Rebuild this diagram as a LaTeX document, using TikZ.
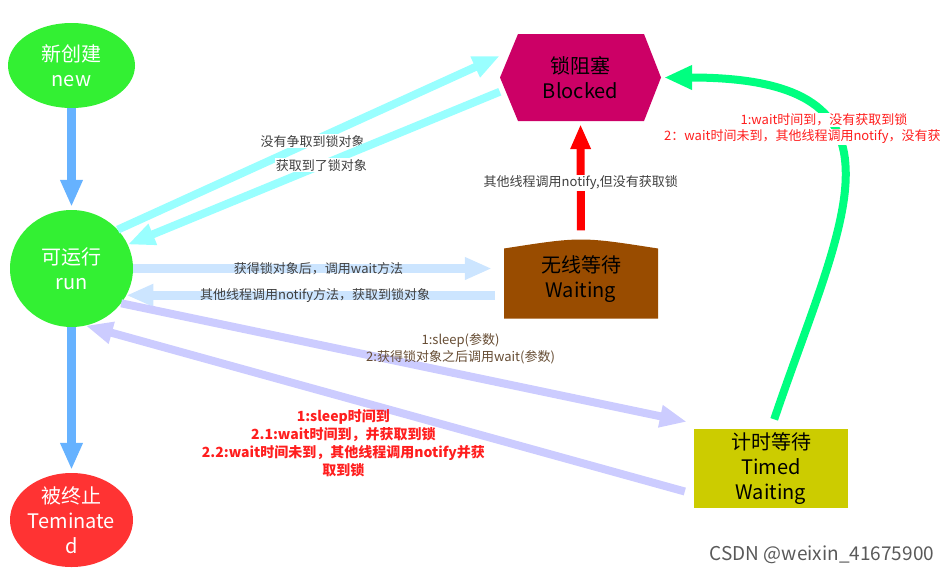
\documentclass[tikz,border=0pt]{standalone}
\usepackage{fontspec}
\setmainfont{Noto Sans CJK SC}
\usetikzlibrary{arrows.meta,shapes.geometric}

\definecolor{newgreen}{RGB}{51,240,51}
\definecolor{endred}{RGB}{255,51,51}
\definecolor{blockpink}{RGB}{204,0,102}
\definecolor{waitbrown}{RGB}{153,76,0}
\definecolor{timedolive}{RGB}{204,204,0}
\definecolor{flowblue}{RGB}{102,178,255}
\definecolor{flowcyan}{RGB}{153,255,255}
\definecolor{flowsky}{RGB}{204,229,255}
\definecolor{flowlilac}{RGB}{204,204,255}
\definecolor{flowred}{RGB}{255,0,0}
\definecolor{flowmint}{RGB}{0,255,128}
\definecolor{notegray}{RGB}{64,64,64}
\definecolor{notebrown}{RGB}{102,76,51}
\definecolor{notered}{RGB}{255,30,30}

\tikzset{
stateell/.style={ellipse, inner sep=-15pt, text=white, align=center, font=\fontsize{20}{25}\selectfont},
statebox/.style={rectangle, inner sep=0pt, align=center, font=\fontsize{20}{25}\selectfont},
flow/.style={line width=9pt, -{Triangle[width=21pt,length=27pt]}},
note/.style={font=\fontsize{13}{17}\selectfont, text=notegray, inner sep=1pt, align=center},
rednote/.style={font=\bfseries\fontsize{14}{18}\selectfont, text=notered, inner sep=1pt, align=center},
}

\begin{document}
\begin{tikzpicture}[x=1pt,y=-1pt]
\useasboundingbox (0,0) rectangle (950,574);
\node[stateell, fill=newgreen, minimum width=127pt, minimum height=85pt] (new) at (71.5,65.5) {新创建\\new};
\node[stateell, fill=newgreen, minimum width=123pt, minimum height=117pt] (run) at (71.5,268.5) {可运行\\run};
\node[stateell, fill=endred, minimum width=123pt, minimum height=94pt] (dead) at (71.5,520) {被终止\\Teminate\\d};
\node[statebox, minimum width=161pt, minimum height=87pt, path picture={
\fill[blockpink] (path picture bounding box.west) -- ([xshift=18pt]path picture bounding box.north west)
 -- ([xshift=-17pt]path picture bounding box.north east) -- (path picture bounding box.east)
 -- ([xshift=-17pt]path picture bounding box.south east) -- ([xshift=18pt]path picture bounding box.south west) -- cycle;
}] (blocked) at (580.5,77.5) {锁阻塞\\Blocked};
\node[statebox, minimum width=154pt, minimum height=79pt, path picture={
\fill[waitbrown] (path picture bounding box.south west) -- ([yshift=-9pt]path picture bounding box.north west)
 .. controls ([yshift=3pt]path picture bounding box.north) .. ([yshift=-9pt]path picture bounding box.north east)
 -- (path picture bounding box.south east) -- cycle;
}] (wait) at (581,279) {无线等待\\Waiting};
\node[statebox, fill=timedolive, minimum width=154pt, minimum height=79pt] (timed) at (771,468.5) {计时等待\\Timed\\Waiting};

\draw[flow, flowblue, shorten >=3pt] (new) -- (run);
\draw[flow, flowblue, shorten >=3pt] (run) -- (dead);
\draw[flow, flowcyan, line width=8pt] (run.40) -- (blocked.165) node[note, fill=white, pos=.51] {没有争取到锁对象};
\draw[flow, flowcyan, line width=8pt] (blocked.190) -- (run.23) node[note, fill=white, pos=.48] {获取到了锁对象};
\draw[flow, flowsky, shorten >=12pt] (run.east) -- (run.east -| wait.west) node[note, pos=.5] {获得锁对象后，调用wait方法};
\draw[flow, flowsky, shorten <=9pt] (run.-26 -| wait.west) -- (run.-26) node[note, pos=.5] {其他线程调用notify方法，获取到锁对象};
\draw[flow, flowred, line width=8pt, -{Triangle[width=19pt,length=25pt]}, shorten <=9pt, shorten >=3pt]
 (wait.north) -- (blocked.south) node[note, fill=white, pos=.48] {其他线程调用notify,但没有获取锁};
\draw[flow, flowlilac, line width=8pt] (run.-35) -- ([xshift=-7pt,yshift=7pt]timed.north west)
 node[note, text=notebrown, pos=.6, above=5pt] {1:sleep(参数)\\2:获得锁对象之后调用wait(参数)};
\draw[flow, flowlilac, line width=8pt] ([xshift=-9pt,yshift=-23pt]timed.west) -- (run.-76)
 node[rednote, pos=.57, below=8pt] {1:sleep时间到\\2.1:wait时间到，并获取到锁\\2.2:wait时间未到，其他线程调用notify并获\\取到锁};
\draw[line width=8pt, flowmint, -{Triangle[width=23pt,length=28pt]}, shorten <=10pt, shorten >=3pt]
 (timed.north) .. controls +(70,-207) and +(265,0) .. (blocked.east);
\node[note, text=notered, fill=white] (mintnote) at (824,120) {1:wait时间到，没有获取到锁};
\node[note, text=notered, fill=white, anchor=west] (mintnotetwo) at (663,137) {2：wait时间未到，其他线程调用notify，没有获};
\node[font=\fontsize{19}{19}\selectfont, text=black!65] (mark) at (822,555) {CSDN @weixin\_41675900};
\end{tikzpicture}
\end{document}
